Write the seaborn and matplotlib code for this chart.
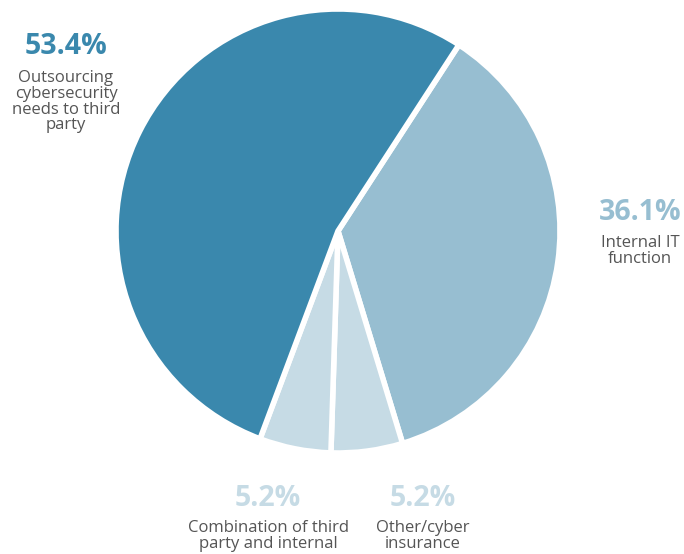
import matplotlib
matplotlib.use("Agg")
import matplotlib.pyplot as plt
import seaborn as sns

# Data
categories = ["Internal IT\nfunction", "Other/cyber\ninsurance",
              "Combination of third\nparty and internal", "Outsourcing\ncybersecurity\nneeds to third\nparty"]
values = [36.1, 5.2, 5.2, 53.4]
pct_labels = ["36.1%", "5.2%", "5.2%", "53.4%"]

sns.set_theme(style="white")
plt.rcParams["font.family"] = ["Open Sans", "DejaVu Sans"]

colors = ["#97bed1", "#c6dbe5", "#c6dbe5", "#3a88ad"]
W, H = 684, 554
fig = plt.figure(figsize=(W / 100, H / 100), dpi=100)
ax = fig.add_axes([0, 0, 1, 1])

ax.pie(values, colors=colors, startangle=57, counterclock=False,
       center=(338, H - 231), radius=222,
       wedgeprops=dict(edgecolor="white", linewidth=4), frame=True)
ax.set_xlim(0, W)
ax.set_ylim(0, H)
ax.set_aspect("equal")
ax.axis("off")

# label positions (pixel coords, y from top): pct center, text top
pos = [(640, 212, 235), (423, 498, 520), (268, 498, 520), (66, 47, 70)]
gray = "#555555"
for (x, yp, yt), pct, cat, col in zip(pos, pct_labels, categories, colors):
    ax.text(x, H - yp, pct, ha="center", va="center", fontsize=20.5,
            fontweight="bold", color=col)
    ax.text(x, H - yt, cat, ha="center", va="top", fontsize=12,
            color=gray, linespacing=0.98)

fig.savefig("out.png", dpi=100)
